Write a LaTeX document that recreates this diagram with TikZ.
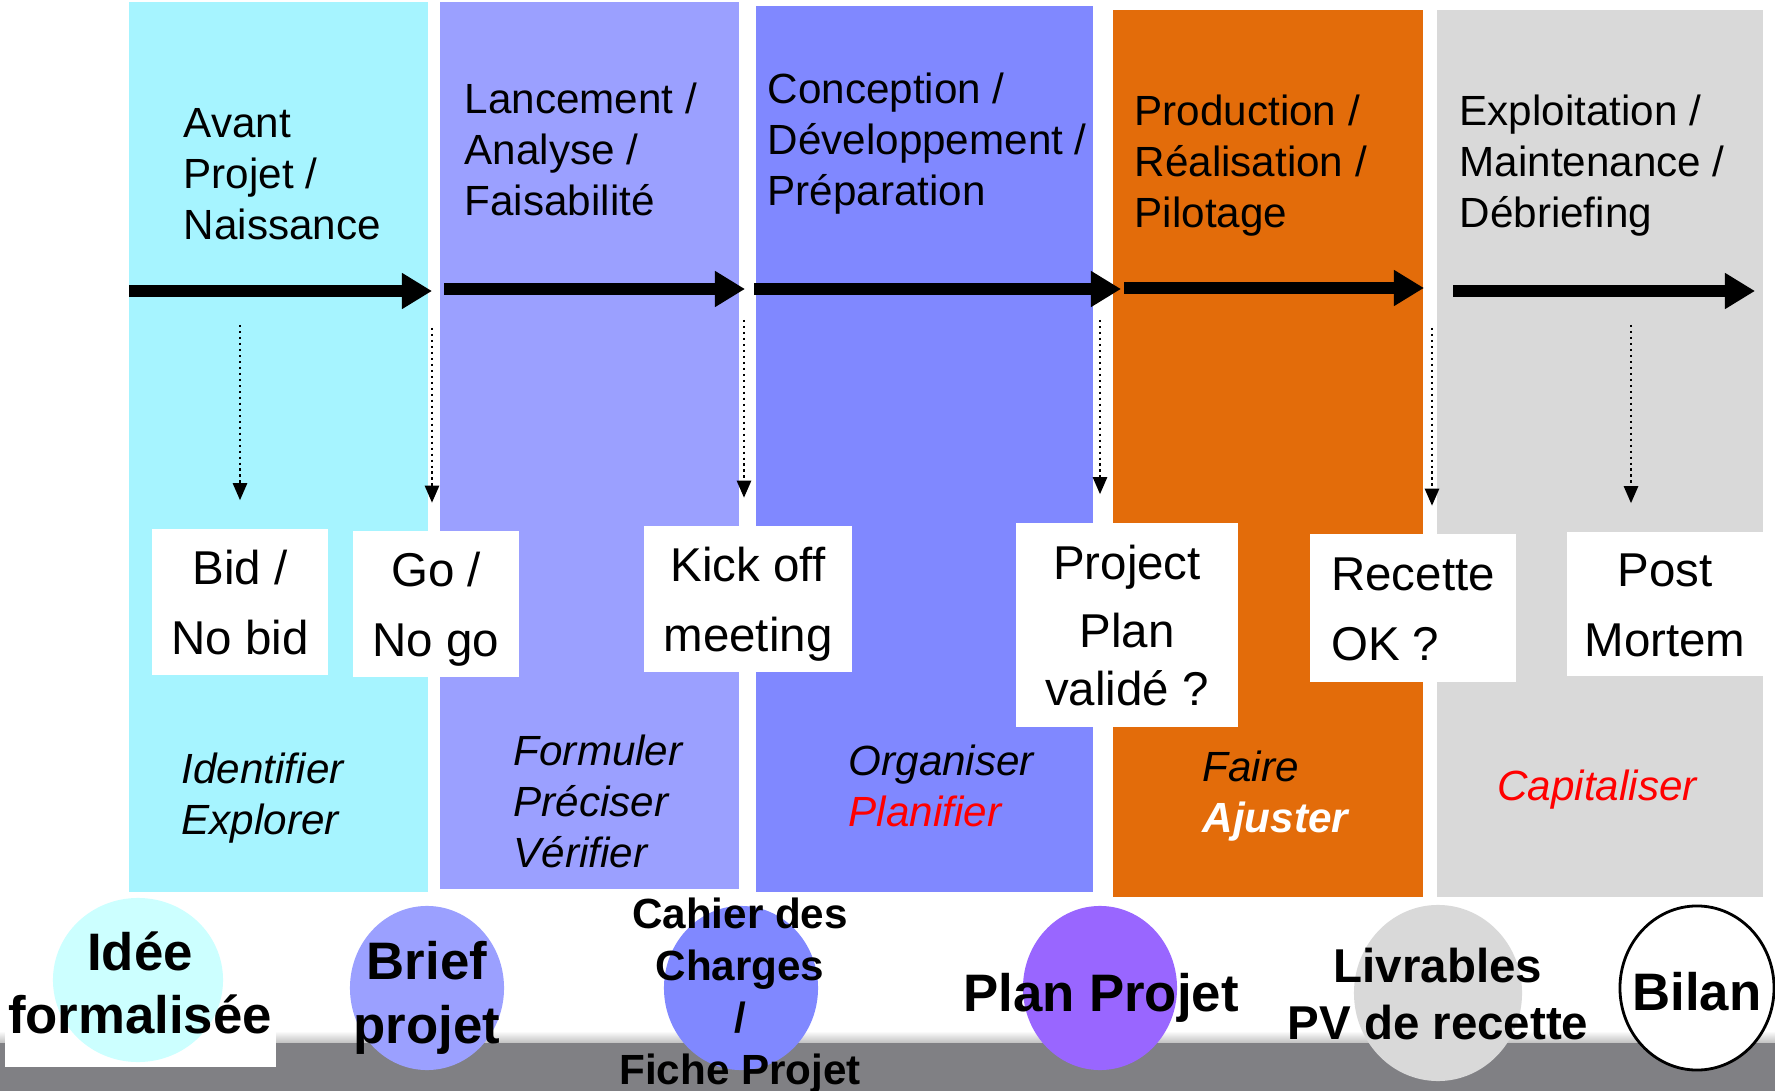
\documentclass[tikz,border=0pt]{standalone}
\usepackage{fontspec}
\setmainfont{Liberation Sans}
\usetikzlibrary{arrows.meta,shapes.geometric}

\definecolor{avantcol}{RGB}{166,244,255}
\definecolor{lancecol}{RGB}{155,160,255}
\definecolor{concecol}{RGB}{128,136,255}
\definecolor{prodcol}{RGB}{227,108,10}
\definecolor{exploitcol}{RGB}{217,217,217}
\definecolor{ideecol}{RGB}{204,255,255}
\definecolor{plancol}{RGB}{153,102,255}
\definecolor{bandcol}{RGB}{128,128,132}
\newcommand{\gateline}{\rule[-5pt]{0pt}{20pt}}

\begin{document}
\begin{tikzpicture}[x=0.01cm, y=-0.01cm,
    phasetext/.style={anchor=west, align=left, inner sep=0pt, font=\fontsize{12}{14.5}\selectfont},
    verbtext/.style={anchor=west, align=left, inner sep=0pt, font=\fontsize{12}{14.5}\selectfont\itshape},
    gatebox/.style={fill=white, align=center, inner sep=0pt, font=\fontsize{13.5}{20}\selectfont},
    flowarrow/.style={line width=3.4pt, -{Triangle[length=0.3cm,width=0.34cm]}},
    gatearrow/.style={line width=0.7pt, densely dotted, -{Triangle[length=0.17cm,width=0.14cm]}, shorten >=0.28cm},
    outcome/.style={ellipse, inner sep=0pt, minimum width=1.54cm, minimum height=1.64cm},
    delivtext/.style={align=center, inner sep=0pt, font=\fontsize{15}{18}\selectfont\bfseries}]
    \fill[white] (0,0) rectangle (1775,1091);
    \useasboundingbox (0,0) rectangle (1775,1091);
    % Phases
    \fill[avantcol] (129,2) rectangle (428,892);
    \fill[lancecol] (440,2) rectangle (739,889);
    \fill[concecol] (756,6) rectangle (1093,892);
    \fill[prodcol] (1113,10) rectangle (1423,897);
    \fill[exploitcol] (1437,10) rectangle (1763,897);
    \node[phasetext] (avant) at (183,174) {Avant\\Projet /\\Naissance};
    \node[phasetext] (lance) at (464,149) {Lancement /\\Analyse /\\Faisabilité};
    \node[phasetext] (conce) at (767,144) {Conception /\\Développement /\\Préparation};
    \node[phasetext] (prod) at (1134,166) {Production /\\Réalisation /\\Pilotage};
    \node[phasetext] (exploit) at (1459,166) {Exploitation /\\Maintenance /\\Débriefing};
    % Flèches
    \coordinate (f1s) at (129,291); \coordinate (f1e) at (432,291);
    \coordinate (f2s) at (444,289); \coordinate (f2e) at (745,289);
    \coordinate (f3s) at (754,289); \coordinate (f3e) at (1121,289);
    \coordinate (f4s) at (1124,288); \coordinate (f4e) at (1424,288);
    \coordinate (f5s) at (1453,291); \coordinate (f5e) at (1755,291);
    \draw[flowarrow] (f1s) -- (f1e);
    \draw[flowarrow] (f2s) -- (f2e);
    \draw[flowarrow] (f3s) -- (f3e);
    \draw[flowarrow] (f4s) -- (f4e);
    \draw[flowarrow] (f5s) -- (f5e);
    % Jalons
    \node[gatebox, minimum width=1.76cm, minimum height=1.46cm] (bid) at (240,602) {\gateline Bid /\\\gateline No bid};
    \node[gatebox, minimum width=1.65cm, minimum height=1.45cm] (go) at (436,604) {\gateline Go /\\\gateline No go};
    \node[gatebox, minimum width=2.08cm, minimum height=1.45cm] (kick) at (748,599) {\gateline Kick off\\\gateline meeting};
    \node[gatebox, minimum width=2.21cm, minimum height=2.04cm] (valid) at (1127,625) {\gateline Project\\[-0.65pt]\gateline Plan\\[-3.5pt]\gateline validé ?};
    \node[gatebox, align=left, minimum width=2.05cm, minimum height=1.47cm] (recette) at (1413,608) {\gateline Recette\\\gateline OK ?};
    \node[gatebox, minimum width=1.95cm, minimum height=1.44cm] (mortem) at (1665,604) {\gateline Post\\\gateline Mortem};
    \coordinate (g1) at (240,325);
    \coordinate (g2) at (432,328);
    \coordinate (g3) at (744,320);
    \coordinate (g4) at (1100,320);
    \coordinate (g5) at (1432,328);
    \coordinate (g6) at (1631,325);
    \draw[gatearrow] (g1) -- (g1 |- bid.north);
    \draw[gatearrow] (g2) -- (g2 |- go.north);
    \draw[gatearrow] (g3) -- (g3 |- kick.north);
    \draw[gatearrow] (g4) -- (g4 |- valid.north);
    \draw[gatearrow] (g5) -- (g5 |- recette.north);
    \draw[gatearrow] (g6) -- (g6 |- mortem.north);
    % Verbes
    \node[verbtext] (ident) at (181,798) {Identifier\\Explorer};
    \node[verbtext] (formul) at (513,801) {Formuler\\Préciser\\Vérifier};
    \node[verbtext] (organ) at (848,786) {Organiser\\\textcolor{red}{Planifier}};
    \node[verbtext] (faire) at (1202,796) {Faire\\\textcolor{white}{\bfseries Ajuster}};
    \node[verbtext, anchor=center, text=red] (capit) at (1597,790) {Capitaliser};
    % Livrables
    \shade[top color=white, bottom color=black!25] (0,1031) rectangle (1775,1043);
    \fill[bandcol] (0,1043) rectangle (1775,1091);
    \fill[white] (5,900) rectangle (276,1067);
    \node[outcome, fill=ideecol, minimum width=1.70cm] (idee) at (138,980) {};
    \node[outcome, fill=lancecol] (brief) at (427,988) {};
    \node[outcome, fill=concecol] (cahier) at (741,988) {};
    \node[outcome, fill=plancol] (plan) at (1100,988) {};
    \node[outcome, fill=exploitcol, minimum width=1.68cm, minimum height=1.76cm] (livr) at (1438,993) {};
    \node[outcome, fill=white, draw=black, line width=0.8pt] (bilan) at (1697,988) {};
    \node[delivtext] (ideetxt) at (140,983) {Idée\\formalisée};
    \node[delivtext] (brieftxt) at (427,998) {Brief\\projet};
    \node[delivtext, font=\fontsize{12}{14.8}\selectfont\bfseries] (cahiertxt) at (740,996) {Cahier des\\Charges\\/\\Fiche Projet};
    \node[delivtext] (plantxt) at (1101,998) {Plan Projet};
    \node[delivtext, font=\fontsize{13.5}{16.2}\selectfont\bfseries] (livrtxt) at (1438,994) {Livrables\\PV de recette};
    \node[delivtext] (bilantxt) at (1697,992) {Bilan};
\end{tikzpicture}
\end{document}
